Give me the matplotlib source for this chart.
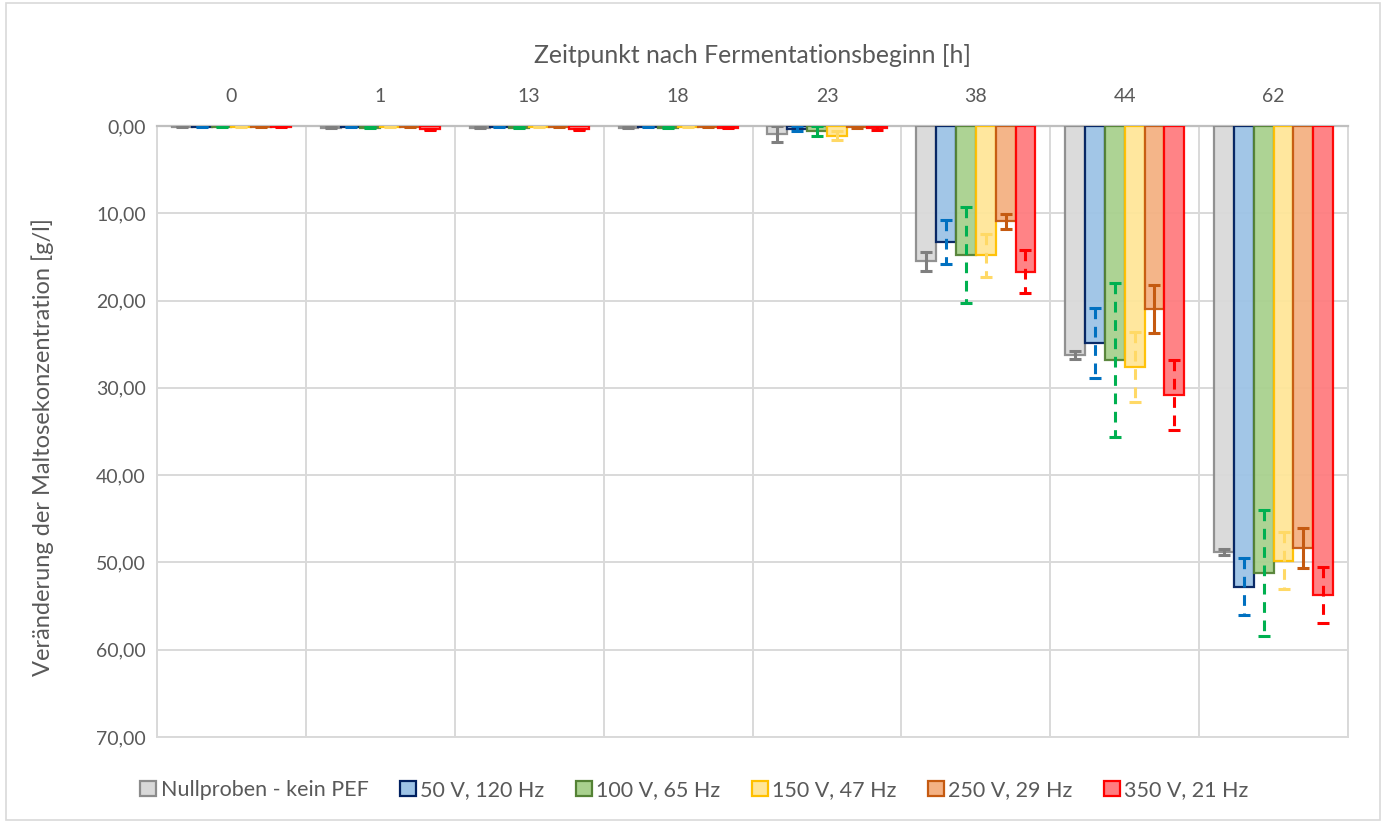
import matplotlib.pyplot as plt
import numpy as np
from matplotlib.patches import Patch
from matplotlib.ticker import FuncFormatter

plt.rcParams['font.family'] = ['Lato', 'DejaVu Sans']

# Zeitpunkte [h] und Versuchsreihen
zeitpunkte = ['0', '1', '13', '18', '23', '38', '44', '62']
reihen = ['Nullproben - kein PEF', '50 V, 120 Hz', '100 V, 65 Hz',
          '150 V, 47 Hz', '250 V, 29 Hz', '350 V, 21 Hz']

# Veränderung der Maltosekonzentration [g/l] (Mittelwerte)
nullprobe = [0.1, 0.2, 0.2, 0.2, 0.9, 15.5, 26.2, 48.8]
v50 = [0.1, 0.1, 0.1, 0.1, 0.3, 13.3, 24.9, 52.8]
v100 = [0.1, 0.2, 0.2, 0.2, 0.6, 14.8, 26.8, 51.2]
v150 = [0.1, 0.1, 0.1, 0.1, 1.1, 14.8, 27.6, 49.8]
v250 = [0.1, 0.1, 0.1, 0.1, 0.1, 10.9, 21.0, 48.3]
v350 = [0.1, 0.4, 0.4, 0.2, 0.2, 16.7, 30.8, 53.7]

# Standardabweichungen
sd_null = [0.05, 0.05, 0.05, 0.05, 0.9, 1.1, 0.45, 0.3]
sd_50 = [0.05, 0.05, 0.05, 0.05, 0.3, 2.5, 4.0, 3.25]
sd_100 = [0.05, 0.05, 0.05, 0.05, 0.6, 5.5, 8.85, 7.25]
sd_150 = [0.05, 0.05, 0.05, 0.05, 0.55, 2.45, 4.05, 3.25]
sd_250 = [0.05, 0.05, 0.05, 0.05, 0.1, 0.85, 2.75, 2.3]
sd_350 = [0.05, 0.1, 0.1, 0.05, 0.3, 2.45, 4.0, 3.2]

werte = [nullprobe, v50, v100, v150, v250, v350]
fehler = [sd_null, sd_50, sd_100, sd_150, sd_250, sd_350]

fuellung = ['#D9D9D9', '#9DC3E6', '#A9D18E', '#FFE699', '#F4B183', '#FF7C80']
rand = ['#8C8C8C', '#002060', '#548235', '#FFC000', '#C55A11', '#FF0000']
fehlerfarbe = ['#7F7F7F', '#0070C0', '#00B050', '#FFD966', '#C55A11', '#FF0000']
fehlerstil = ['-', (0, (3.5, 2.5)), (0, (3.5, 2.5)), (0, (3.5, 2.5)), '-', (0, (3.5, 2.5))]

fig = plt.figure(figsize=(13.86, 8.23), dpi=100)
ax = fig.add_axes([0.1133, 0.1045, 0.8593, 0.7424])

x = np.arange(len(zeitpunkte))
breite = 0.8 / len(reihen)

for i in range(len(reihen)):
    pos = x - 0.4 + breite * (i + 0.5)
    ax.bar(pos, werte[i], width=breite, color=fuellung[i], alpha=0.95,
           edgecolor=rand[i], linewidth=1.6, zorder=3)
    eb = ax.errorbar(pos, werte[i], yerr=fehler[i], fmt='none',
                     ecolor=fehlerfarbe[i], elinewidth=2.2, capsize=4.5,
                     capthick=2.2, zorder=4)
    for lc in eb[2]:
        lc.set_linestyle(fehlerstil[i])

ax.set_ylim(70, 0)
ax.set_xlim(-0.5, len(zeitpunkte) - 0.5)
ax.set_yticks(np.arange(0, 71, 10))
ax.yaxis.set_major_formatter(FuncFormatter(lambda v, p: f'{v:.2f}'.replace('.', ',')))

ax.xaxis.tick_top()
ax.xaxis.set_label_position('top')
ax.set_xticks(x)
ax.set_xticklabels(zeitpunkte)
ax.set_xticks(np.arange(-0.5, len(zeitpunkte)), minor=True)
ax.tick_params(axis='both', which='both', length=0, labelsize=14,
               labelcolor='#595959')
ax.tick_params(axis='x', pad=15)
ax.tick_params(axis='y', pad=8)

ax.set_xlabel('Zeitpunkt nach Fermentationsbeginn [h]', fontsize=17.8,
              color='#595959', labelpad=18)
ax.set_ylabel('Veränderung der Maltosekonzentration [g/l]', fontsize=17,
              color='#595959')
ax.yaxis.set_label_coords(-0.0865, 0.475)

ax.grid(axis='y', which='major', color='#D9D9D9', linewidth=1.4, zorder=0)
ax.grid(axis='x', which='minor', color='#D9D9D9', linewidth=1.4, zorder=0)
for s in ['left', 'right', 'bottom']:
    ax.spines[s].set_color('#D9D9D9')
    ax.spines[s].set_linewidth(1.4)
ax.spines['top'].set_color('#BFBFBF')
ax.spines['top'].set_linewidth(1.6)

griffe = [Patch(facecolor=fuellung[i], edgecolor=rand[i], linewidth=1.6)
          for i in range(len(reihen))]
fig.legend(griffe, reihen, loc='center', bbox_to_anchor=(0.501, 0.04),
           ncol=6, frameon=False, fontsize=15.5, handlelength=0.75,
           handleheight=0.75, handletextpad=0.2, columnspacing=1.45,
           labelcolor='#595959')

# Rahmen um die Grafik
fig.patches.append(plt.Rectangle((0.004, 0.004), 0.992, 0.992, transform=fig.transFigure,
                                 fill=False, edgecolor='#D9D9D9', linewidth=1.2))

fig.savefig('out.png', dpi=100)
